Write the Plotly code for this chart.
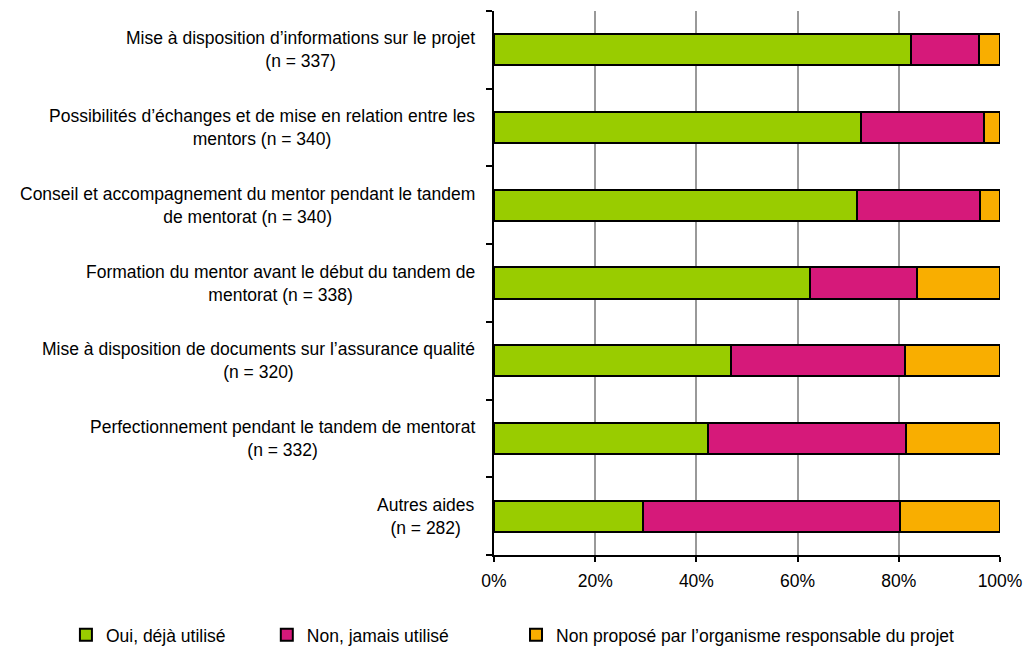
import plotly.graph_objects as go

categories = [
    "Mise à disposition d’informations sur le projet<br>(n = 337)",
    "Possibilités d’échanges et de mise en relation entre les<br>mentors (n = 340)",
    "Conseil et accompagnement du mentor pendant le tandem<br>de mentorat (n = 340)",
    "Formation du mentor avant le début du tandem de<br>mentorat (n = 338)",
    "Mise à disposition de documents sur l’assurance qualité<br>(n = 320)",
    "Perfectionnement pendant le tandem de mentorat<br>(n = 332)",
    "Autres aides<br>(n = 282)",
]
oui = [82.5, 72.6, 71.8, 62.5, 46.9, 42.2, 29.4]
non = [13.3, 24.2, 24.2, 21.0, 34.4, 39.2, 50.8]
non_propose = [round(100 - a - b, 1) for a, b in zip(oui, non)]

series_names = ["Oui, déjà utilisé", "Non, jamais utilisé",
                "Non proposé par l’organisme responsable du projet"]
series_values = [oui, non, non_propose]
colors = ["#99cc00", "#d6197a", "#f9ae00"]
legend_ids = ["legend", "legend2", "legend3"]
x_ticks = [0, 20, 40, 60, 80, 100]

FONT = "Liberation Sans, Arial, sans-serif"
FS = 17.5

fig = go.Figure()
for name, vals, col, lg in zip(series_names, series_values, colors, legend_ids):
    fig.add_trace(go.Bar(
        y=list(range(len(categories))), x=vals, name=name, orientation="h",
        marker=dict(color=col, line=dict(color="black", width=2)),
        width=0.40, legend=lg,
    ))

for i, cat in enumerate(categories):
    fig.add_annotation(
        x=0, xref="paper", xanchor="right", xshift=-17,
        y=i, yref="y", yanchor="middle",
        text=cat, showarrow=False, align="center",
        font=dict(family=FONT, size=FS, color="black"),
    )

# page body has an 8px margin: figure origin sits at (8, 8) in the window
leg_common = dict(orientation="h", yanchor="middle", y=-0.147, xanchor="left",
                  font=dict(family=FONT, size=FS, color="black"),
                  bgcolor="rgba(0,0,0,0)")
fig.update_layout(
    barmode="stack",
    width=1025, height=638,
    margin=dict(l=486, r=33, t=3, b=91, autoexpand=False),
    paper_bgcolor="white", plot_bgcolor="white",
    font=dict(family=FONT, size=FS, color="black"),
    legend=dict(x=-0.846, **leg_common),
    legend2=dict(x=-0.449, **leg_common),
    legend3=dict(x=0.0435, **leg_common),
    showlegend=True,
    xaxis=dict(
        range=[0, 100], tickvals=x_ticks, ticktext=[f"{v}%" for v in x_ticks],
        showgrid=True, gridcolor="#999999", gridwidth=1.5,
        showline=True, linecolor="black", linewidth=2,
        ticks="outside", ticklen=5, tickcolor="black", tickwidth=2,
        ticklabelstandoff=4,
        zeroline=False, tickfont=dict(family=FONT, size=FS, color="black"),
    ),
    yaxis=dict(
        type="linear", autorange=False, range=[6.5, -0.5],
        tickvals=[i - 0.5 for i in range(len(categories) + 1)],
        showticklabels=False, showgrid=False, zeroline=False,
        showline=True, linecolor="black", linewidth=2,
        ticks="outside", ticklen=6, tickcolor="black", tickwidth=2,
    ),
)

fig.write_html("out.html")
